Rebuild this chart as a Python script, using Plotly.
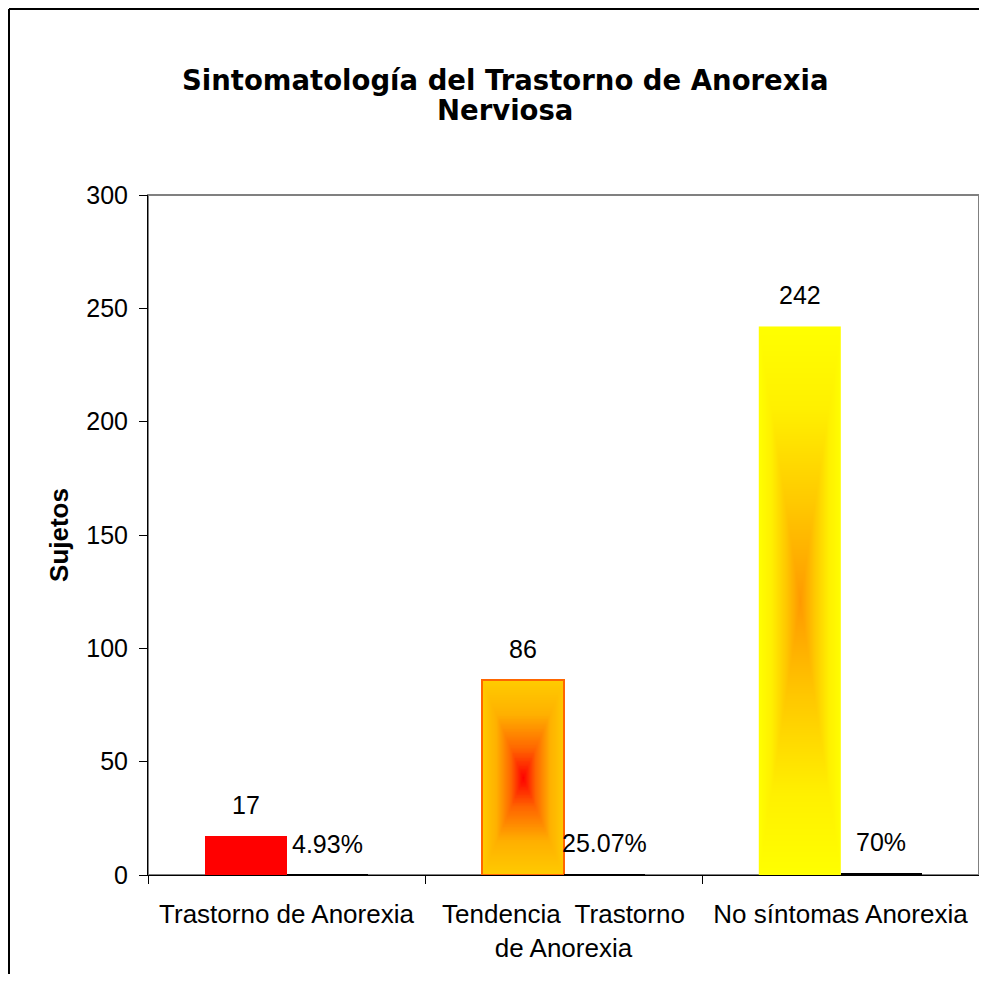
import numpy as np
import plotly.graph_objects as go

categories = ["Trastorno de Anorexia", "Tendencia  Trastorno<br>de Anorexia", "No síntomas Anorexia"]
sujetos = [17, 86, 242]
porcentajes = [0.0493, 0.2507, 0.70]
porcentaje_labels = ["4.93%", "25.07%", "70%"]
y_ticks = [0, 50, 100, 150, 200, 250, 300]
title_lines = ["Sintomatología del Trastorno de Anorexia", "Nerviosa"]

# page has an 8px body margin; figure coordinates are page - 8
OFF = 8
W, H = 977, 966
ML, MT = 148 - OFF, 195 - OFF
PR, PB = 979 - OFF, 875 - OFF
MR, MB = W - PR, H - PB
FONT = "Liberation Sans, Arial, sans-serif"
TFONT = "DejaVu Sans, Liberation Sans, Arial, sans-serif"
BARW = 0.295

xs = np.arange(len(categories))

fig = go.Figure()

# gradient fills for bars 2 and 3 (rectangular "from centre" gradient)
grad_scales = {
    1: [[0, "#FF0000"], [0.3, "#FF6600"], [0.65, "#FFB000"], [1, "#FFCC00"]],
    2: [[0, "#FF9900"], [0.35, "#FFC800"], [0.7, "#FFF000"], [1, "#FFFF00"]],
}
NX, NY = 41, 121
for i, cs in grad_scales.items():
    left = xs[i] - BARW
    top = sujetos[i]
    cx = left + (np.arange(NX) + 0.5) * BARW / NX
    cy = (np.arange(NY) + 0.5) * top / NY
    u = np.abs((cx - (left + BARW / 2)) / (BARW / 2))
    v = np.abs((cy - top / 2) / (top / 2))
    z = np.maximum(u[None, :], v[:, None])
    fig.add_trace(go.Heatmap(x=cx, y=cy, z=z, colorscale=cs, zmin=0, zmax=1,
                             showscale=False, zsmooth="best", hoverinfo="skip"))

fig.add_trace(go.Bar(
    x=xs, y=sujetos, name="Sujetos",
    marker=dict(color=["#FF0000", "rgba(0,0,0,0)", "rgba(0,0,0,0)"],
                line=dict(color=["#FF0000", "#FF6600", "rgba(0,0,0,0)"], width=[0, 2, 0])),
    offset=-BARW, width=BARW,
))
fig.add_trace(go.Bar(
    x=xs, y=porcentajes, name="Porcentaje",
    marker=dict(color="#000000", line=dict(width=0)),
    offset=0, width=BARW,
))

annotations = []
for i in range(len(categories)):
    annotations.append(dict(x=xs[i] - BARW / 2, y=sujetos[i], text=str(sujetos[i]),
                            showarrow=False, yanchor="middle", yshift=31,
                            font=dict(family=FONT, size=25, color="#000")))
    annotations.append(dict(x=xs[i] + BARW / 2, y=porcentajes[i], text=porcentaje_labels[i],
                            showarrow=False, yanchor="middle", yshift=31,
                            font=dict(family=FONT, size=25, color="#000")))

pw = W - ML - MR
ph = H - MT - MB
# title as two lines
for txt, yc in zip(title_lines, [80, 110]):
    annotations.append(dict(xref="paper", yref="paper", x=(505 - 148) / pw,
                            y=1 + (MT - (yc - OFF)) / ph, text="<b>%s</b>" % txt,
                            showarrow=False, xanchor="center", yanchor="middle",
                            font=dict(family=TFONT, size=27.5, color="#000")))

fx0 = (1 - ML) / pw
fy1 = 1 + (MT - 1) / ph
shapes = [
    # plot area border (gray)
    dict(type="rect", xref="paper", yref="paper", x0=0, x1=1, y0=0, y1=1,
         line=dict(color="#808080", width=2), layer="below"),
    # outer chart frame: left and top edges (others lie outside the picture)
    dict(type="line", xref="paper", yref="paper", x0=fx0, x1=fx0, y0=fy1, y1=-MB / ph,
         line=dict(color="#000000", width=2)),
    dict(type="line", xref="paper", yref="paper", x0=fx0, x1=(W - ML) / pw, y0=fy1, y1=fy1,
         line=dict(color="#000000", width=2)),
]

fig.update_layout(
    width=W, height=H,
    margin=dict(l=ML, r=MR, t=MT, b=MB, pad=0),
    paper_bgcolor="white", plot_bgcolor="white",
    showlegend=False,
    bargap=0, barmode="overlay",
    font=dict(family=FONT, color="#000"),
    annotations=annotations,
    shapes=shapes,
    xaxis=dict(range=[-0.5, 2.5], tickvals=list(xs), ticktext=categories,
               ticks="", showline=True, linecolor="#000", linewidth=1,
               showgrid=False, zeroline=False, ticklabelstandoff=16,
               tickfont=dict(family=FONT, size=26, color="#000"),
               minor=dict(tickvals=[-0.5, 0.5, 1.5, 2.5], ticks="outside",
                          ticklen=8, tickcolor="#000", tickwidth=1, showgrid=False)),
    yaxis=dict(range=[0, 300], tickvals=y_ticks, ticks="outside", ticklen=8,
               tickcolor="#000", showline=True, linecolor="#000", linewidth=1,
               showgrid=False, zeroline=False, ticklabelstandoff=6,
               tickfont=dict(family=FONT, size=25, color="#000"),
               title=dict(text="<b>Sujetos</b>", standoff=10,
                          font=dict(family=FONT, size=26, color="#000"))),
)

fig.write_html("out.html")
